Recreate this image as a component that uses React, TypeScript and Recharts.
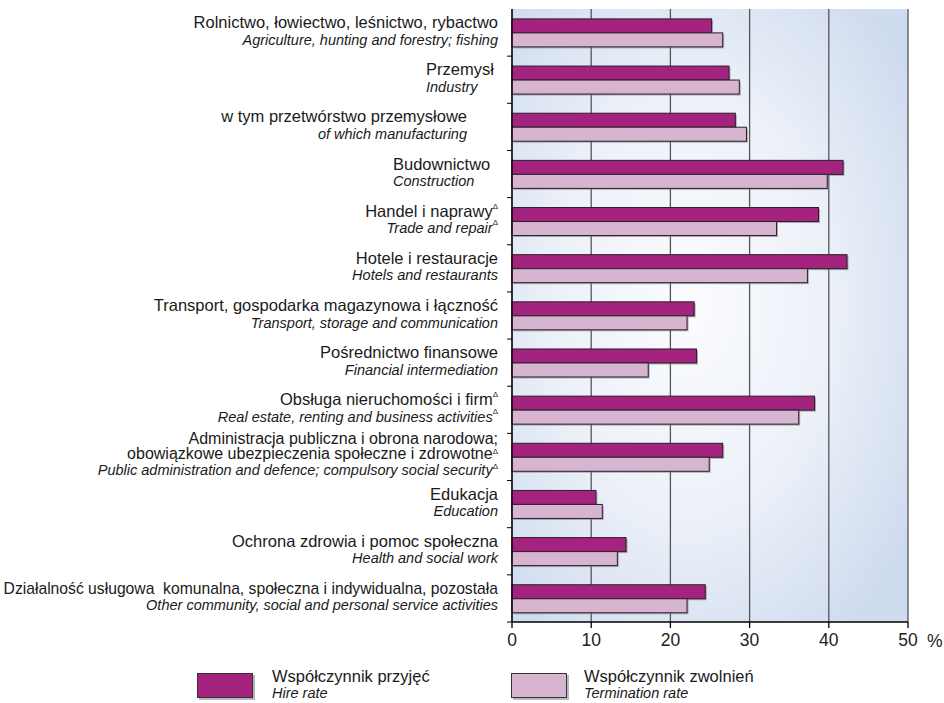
import React from 'react';
import { BarChart, Bar, XAxis, YAxis, CartesianGrid, Legend } from 'recharts';

const categoriesPl = [
  'Rolnictwo, łowiectwo, leśnictwo, rybactwo',
  'Przemysł',
  'w tym przetwórstwo przemysłowe',
  'Budownictwo',
  'Handel i naprawyΔ',
  'Hotele i restauracje',
  'Transport, gospodarka magazynowa i łączność',
  'Pośrednictwo finansowe',
  'Obsługa nieruchomości i firmΔ',
  'Administracja publiczna i obrona narodowa;|obowiązkowe ubezpieczenia społeczne i zdrowotneΔ',
  'Edukacja',
  'Ochrona zdrowia i pomoc społeczna',
  'Działalność usługowa  komunalna, społeczna i indywidualna, pozostała',
];

const categoriesEn = [
  'Agriculture, hunting and forestry; fishing',
  'Industry',
  'of which manufacturing',
  'Construction',
  'Trade and repairΔ',
  'Hotels and restaurants',
  'Transport, storage and communication',
  'Financial intermediation',
  'Real estate, renting and business activitiesΔ',
  'Public administration and defence; compulsory social securityΔ',
  'Education',
  'Health and social work',
  'Other community, social and personal service activities',
];

const hireRate = [25.2, 27.4, 28.2, 41.8, 38.7, 42.3, 23.0, 23.3, 38.2, 26.6, 10.6, 14.4, 24.4];
const terminationRate = [26.6, 28.7, 29.6, 39.8, 33.4, 37.3, 22.1, 17.2, 36.2, 24.9, 11.4, 13.3, 22.1];

const xTicks = [0, 10, 20, 30, 40, 50];

const seriesNamesPl = ['Współczynnik przyjęć', 'Współczynnik zwolnień'];
const seriesNamesEn = ['Hire rate', 'Termination rate'];

const data = categoriesPl.map((name, i) => ({
  name,
  en: categoriesEn[i],
  hire: hireRate[i],
  term: terminationRate[i],
}));

const FONT = '"Liberation Sans", Arial, sans-serif';
const HIRE_COLOR = '#A4237F';
const TERM_COLOR = '#D7B4CF';

// label alignment / size tweaks (layout only)
const LABEL_ALIGN: Record<number, { anchor: 'start' | 'end'; dx: number }> = {
  1: { anchor: 'start', dx: -86 },
  2: { anchor: 'end', dx: -45 },
  3: { anchor: 'start', dx: -119 },
};
const LABEL_FONT: Record<number, number> = { 12: 15.7 };

const renderLine = (text: string, key: string | number, rise = 8) => {
  if (text.endsWith('Δ')) {
    return [
      <tspan key={key + 'a'}>{text.slice(0, -1)}</tspan>,
      <tspan key={key + 'b'} fontSize={8} dy={-rise} fontStyle="normal">Δ</tspan>,
    ];
  }
  return text;
};

const CategoryTick = (props: any) => {
  const { x, y, payload } = props;
  const idx = payload.index;
  const half = payload.offset ?? 613 / categoriesPl.length / 2;
  const align = LABEL_ALIGN[idx] || { anchor: 'end', dx: -14 };
  const plLines = String(payload.value).split('|');
  const en = categoriesEn[idx];
  const tx = x + align.dx;
  const multi = plLines.length > 1;
  const plBase = multi ? [-13, 2.5] : [-4.5];
  const enBase = multi ? 18 : 12;
  const plSize = LABEL_FONT[idx] ?? (multi ? 16 : 16.5);
  return (
    <g>
      <line x1={x - 5} x2={x} y1={y + half} y2={y + half} stroke="#000" strokeWidth={1} />
      {plLines.map((ln, k) => (
        <text
          key={k}
          x={tx}
          y={y + plBase[k]}
          textAnchor={align.anchor}
          fontSize={plSize}
          fill="#1a1a1a"
          fontFamily={FONT}
          style={{ whiteSpace: 'pre' }}
        >
          {renderLine(ln, k, multi ? 5 : 8)}
        </text>
      ))}
      <text
        x={tx}
        y={y + enBase}
        textAnchor={align.anchor}
        fontSize={14.5}
        fontStyle="italic"
        fill="#1a1a1a"
        fontFamily={FONT}
      >
        {renderLine(en, 'en', multi ? 6 : 8)}
      </text>
    </g>
  );
};

const ShadowBar = (props: any) => {
  const { x, y, width, height, fill } = props;
  if (!width || width <= 0) return null;
  return (
    <g>
      <rect x={x + 1.5} y={y + 1.5} width={width} height={height} fill="#777" opacity={0.55} />
      <rect x={x} y={y} width={width} height={height} fill={fill} stroke="#2a1f2a" strokeWidth={1} />
    </g>
  );
};

const LegendContent = (props: any) => {
  const payload = props.payload || [];
  const swatchLeft = [197, 511];
  const textLeft = [272, 584];
  return (
    <div style={{ position: 'relative', width: 944, height: 50, fontFamily: FONT, color: '#1a1a1a' }}>
      {payload.map((p: any, i: number) => (
        <React.Fragment key={i}>
          <div
            style={{
              position: 'absolute',
              left: swatchLeft[i] + 1.5,
              top: 21.5,
              width: 56,
              height: 25,
              background: '#888',
              opacity: 0.6,
            }}
          />
          <div
            style={{
              position: 'absolute',
              left: swatchLeft[i],
              top: 20,
              width: 54,
              height: 23,
              background: p.color,
              border: '1px solid #333',
            }}
          />
          <div style={{ position: 'absolute', left: textLeft[i], top: 14, fontSize: 16.5, lineHeight: '18px', whiteSpace: 'nowrap' }}>
            {p.value}
          </div>
          <div
            style={{
              position: 'absolute',
              left: textLeft[i],
              top: 32,
              fontSize: 14.5,
              lineHeight: '16px',
              fontStyle: 'italic',
              whiteSpace: 'nowrap',
            }}
          >
            {seriesNamesEn[i]}
          </div>
        </React.Fragment>
      ))}
    </div>
  );
};

export default function App() {
  return (
    <div style={{ position: 'absolute', left: 0, top: 0, background: '#fff' }}>
      <BarChart
        width={944}
        height={703}
        data={data}
        layout="vertical"
        margin={{ top: 9, right: 36, bottom: 0, left: 0 }}
        barCategoryGap="21%"
        barGap={0}
      >
        <defs>
          <radialGradient id="plotBg" cx="0.45" cy="0.48" r="0.66">
            <stop offset="0" stopColor="#fbfcfe" />
            <stop offset="0.55" stopColor="#ebf0f8" />
            <stop offset="1" stopColor="#cfdbef" />
          </radialGradient>
        </defs>
        <CartesianGrid horizontal={false} vertical stroke="#555" strokeWidth={1.3} fill="url(#plotBg)" fillOpacity={1} />
        <XAxis
          type="number"
          domain={[0, 50]}
          ticks={xTicks}
          interval={0}
          height={31}
          tickSize={6}
          tickMargin={6}
          axisLine={{ stroke: '#000', strokeWidth: 1.3 }}
          tickLine={{ stroke: '#000', strokeWidth: 1.3 }}
          tick={{ fontSize: 17.5, fill: '#222', fontFamily: FONT }}
          label={{ value: '%', position: 'right', offset: 19, dy: 3, fontSize: 17.5, fill: '#222', fontFamily: FONT }}
        />
        <XAxis
          xAxisId="top"
          orientation="top"
          type="number"
          domain={[0, 50]}
          ticks={xTicks}
          height={0}
          tick={false}
          tickLine={false}
          axisLine={{ stroke: '#444', strokeWidth: 1.3 }}
        />
        <YAxis
          type="category"
          dataKey="name"
          width={512}
          interval={0}
          tickSize={0}
          tickMargin={0}
          tickLine={false}
          axisLine={{ stroke: '#000', strokeWidth: 1.3 }}
          tick={<CategoryTick />}
        />
        <Legend
          verticalAlign="bottom"
          layout="horizontal"
          content={<LegendContent />}
          wrapperStyle={{ left: 0, bottom: 0, width: 944, height: 50 }}
        />
        <Bar dataKey="hire" name={seriesNamesPl[0]} fill={HIRE_COLOR} shape={<ShadowBar />} isAnimationActive={false} />
        <Bar dataKey="term" name={seriesNamesPl[1]} fill={TERM_COLOR} shape={<ShadowBar />} isAnimationActive={false} />
      </BarChart>
    </div>
  );
}
